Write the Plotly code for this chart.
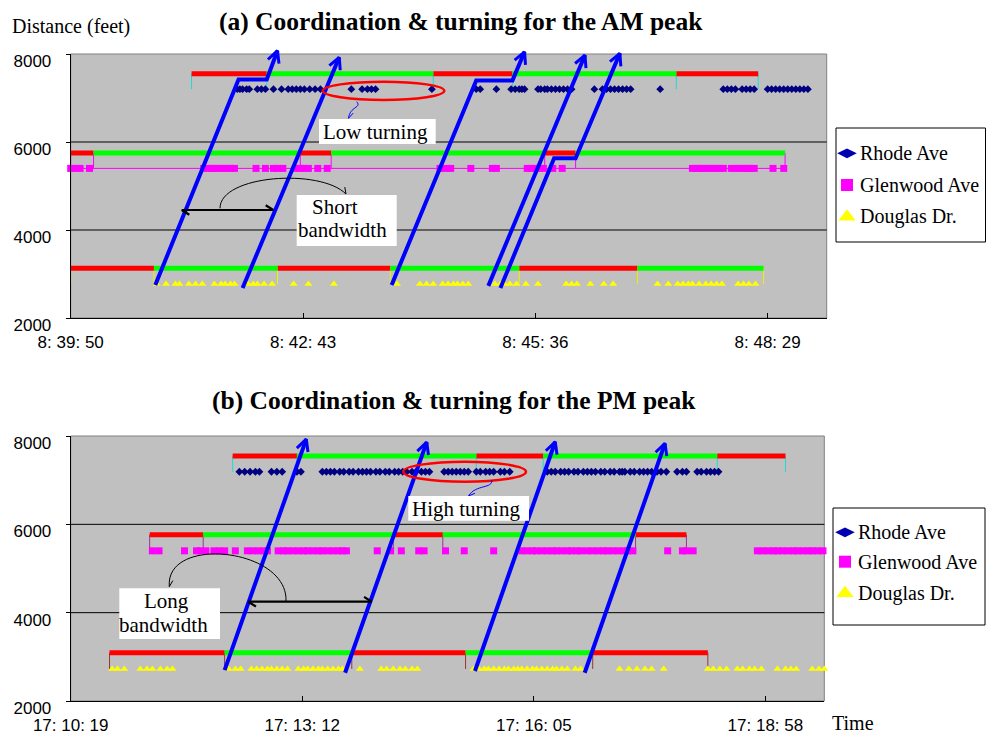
import math
import plotly.graph_objects as go

W, H = 986, 735

# ---------------------------------------------------------------- data
am_start = 8 * 3600 + 39 * 60 + 50     # 8:39:50
pm_start = 17 * 3600 + 10 * 60 + 19    # 17:10:19
tick_offsets = [0, 173, 346, 519]      # seconds after window start
window_len = 563
distance_ticks = [2000, 4000, 6000, 8000]

streets = ["Rhode Ave", "Glenwood Ave", "Douglas Dr."]

# signal phase change times (s after window start); first phase is red
am_rhode_phase = [90, 146, 270, 329, 451, 512]
am_glenwood_phase = [0, 17, 171, 194, 353, 376, 532]
am_douglas_phase = [0, 62, 154, 238, 334, 422, 516]
pm_rhode_phase = [121, 169, 303, 353, 483, 534]
pm_glenwood_phase = [59, 99, 241, 278, 422, 460]
pm_douglas_phase = [29, 115, 210, 295, 390, 476]

# distance (feet) of each signal bar and of each arrival row
am_bar_level = [7550, 5750, 3130]
am_row_level = [7200, 5400, 2770]
pm_bar_level = [7550, 5765, 3095]
pm_row_level = [7190, 5400, 2725]

# vehicle arrivals (s after window start)
am_rhode_arrivals = [124, 126, 128, 131, 133, 139, 142, 145, 151, 157, 162, 165, 168, 171, 174,
                     178, 182, 186, 209, 217, 221, 224, 227, 269, 302, 305, 317, 328, 331, 334,
                     336, 338, 348, 350, 353, 355, 358, 361, 364, 367, 370, 373, 390, 396, 399,
                     402, 405, 408, 411, 414, 417, 439, 486, 489, 492, 495, 500, 503, 506, 509,
                     519, 522, 525, 528, 531, 534, 537, 540, 543, 546, 549]
am_glenwood_arrivals = [0, 4, 7, 14, 99, 102, 105, 107, 110, 113, 116, 119, 122, 138, 145, 151,
                        154, 158, 168, 171, 174, 177, 184, 191, 275, 279, 283, 298, 314, 317,
                        340, 343, 346, 349, 352, 359, 366, 463, 466, 469, 471, 474, 477, 480,
                        483, 486, 492, 495, 498, 501, 504, 506, 509, 523, 531]
am_douglas_arrivals = [64, 71, 78, 81, 88, 93, 98, 107, 112, 115, 119, 122, 132, 136, 139, 144,
                       150, 166, 177, 196, 243, 260, 265, 270, 277, 281, 285, 288, 292, 296,
                       316, 320, 323, 327, 332, 339, 348, 369, 373, 377, 387, 397, 404, 437,
                       445, 452, 456, 460, 463, 468, 473, 477, 481, 485, 497, 501, 505, 510]
pm_rhode_arrivals = [126, 130, 134, 138, 141, 150, 154, 158, 169, 172, 188, 191, 194, 197, 201,
                     204, 208, 211, 215, 218, 221, 224, 228, 231, 235, 238, 242, 245, 248, 251,
                     255, 258, 262, 265, 268, 279, 282, 285, 288, 291, 294, 297, 303, 306, 310,
                     313, 316, 321, 324, 328, 356, 359, 362, 366, 369, 372, 376, 379, 383, 386,
                     389, 392, 396, 399, 403, 406, 410, 412, 414, 418, 421, 425, 428, 431, 434,
                     438, 441, 445, 453, 457, 460, 468, 471, 475, 478, 481, 484]
pm_glenwood_arrivals = [61, 66, 85, 94, 97, 101, 107, 111, 115, 123, 132, 136, 140, 144, 147,
                        155, 159, 162, 166, 170, 174, 177, 181, 185, 188, 192, 196, 200, 203,
                        206, 229, 239, 247, 260, 264, 280, 294, 316, 337, 341, 345, 348, 352,
                        356, 360, 363, 367, 371, 374, 378, 381, 386, 390, 394, 398, 401, 405,
                        409, 413, 416, 420, 446, 457, 460, 465, 513, 517, 521, 525, 528, 532,
                        536, 540, 543, 547, 551, 554, 558, 562]
pm_douglas_arrivals = [31, 35, 40, 52, 57, 61, 67, 72, 76, 118, 123, 127, 135, 139, 143, 147,
                       150, 154, 158, 162, 170, 174, 177, 181, 185, 188, 192, 196, 200, 203,
                       216, 232, 236, 241, 246, 250, 255, 259, 301, 305, 309, 312, 316, 320,
                       324, 327, 331, 334, 337, 341, 345, 348, 352, 356, 360, 363, 367, 371,
                       377, 381, 410, 417, 423, 429, 434, 443, 476, 480, 485, 490, 498, 502,
                       507, 511, 516, 528, 534, 538, 542, 554, 559, 563]

# platoon trajectories: (times, distances)
am_trajectories = [
    ([63, 125, 146, 154], [2750, 7420, 7420, 8075]),
    ([128, 200], [2680, 7925]),
    ([239, 302, 329, 338], [2750, 7400, 7400, 8050]),
    ([311, 383], [2730, 7975]),
    ([320, 360, 376, 409], [2680, 5630, 5630, 8015]),
]
pm_trajectories = [
    ([115, 176], [2700, 7930]),
    ([205, 266], [2640, 7860]),
    ([302, 362], [2680, 7870]),
    ([384, 444], [2640, 7835]),
]

# ---------------------------------------------------------------- styling
SERIF = "Liberation Serif, Times New Roman, serif"
SANS = "Liberation Sans, Arial, sans-serif"
RED, GREEN, BLUE = "#FF0000", "#00FF00", "#0000FF"
marker_styles = [
    dict(symbol="diamond", color="#000080", size=6),
    dict(symbol="square", color="#FF00FF", size=7),
    dict(symbol="triangle-up", color="#FFFF00", size=7),
]
legend_marker_styles = [
    dict(symbol="diamond-wide", color="#0000B0", size=14),
    dict(symbol="square", color="#FF00FF", size=12),
    dict(symbol="triangle-up", color="#FFFF00", size=15),
]

panels = [
    dict(box=(70.7, 54, 826.7, 318), start=am_start,
         phases=[am_rhode_phase, am_glenwood_phase, am_douglas_phase],
         bars=am_bar_level, rows=am_row_level,
         arrivals=[am_rhode_arrivals, am_glenwood_arrivals, am_douglas_arrivals],
         connect=[False, True, False],
         tick_colors=["#20D8D8", "#FF00FF", "#F0F000"],
         trajectories=am_trajectories),
    dict(box=(70.7, 436, 824.3, 701), start=pm_start,
         phases=[pm_rhode_phase, pm_glenwood_phase, pm_douglas_phase],
         bars=pm_bar_level, rows=pm_row_level,
         arrivals=[pm_rhode_arrivals, pm_glenwood_arrivals, pm_douglas_arrivals],
         connect=[False, False, False],
         tick_colors=["#20D8D8", "#993399", "#993333"],
         trajectories=pm_trajectories),
]


def clock(t):
    h, r = divmod(int(t), 3600)
    m, s = divmod(r, 60)
    return f"{h}: {m:02d}: {s:02d}"


def PX(x):
    return x / W


def PY(y):
    return 1 - y / H


def chevron(tip, frm, length, half_angle):
    """Two wing end points of an open arrow head at `tip`, pointing away from `frm`."""
    dx, dy = frm[0] - tip[0], frm[1] - tip[1]
    d = math.hypot(dx, dy)
    ux, uy = dx / d, dy / d
    a = math.radians(half_angle)
    wings = []
    for sgn in (1, -1):
        c, s = math.cos(sgn * a), math.sin(sgn * a)
        wings.append((tip[0] + length * (ux * c - uy * s), tip[1] + length * (ux * s + uy * c)))
    return wings


def ax(prefix, n):
    return prefix + ("" if n == 1 else str(n))


fig = go.Figure()
layout = dict(width=W, height=H, margin=dict(l=0, r=0, t=0, b=0, autoexpand=False),
              paper_bgcolor="white", plot_bgcolor="rgba(0,0,0,0)", showlegend=False)
shapes, annotations = [], []
HEADROOM = 30  # px above the frame where arrow tips may reach

for i, p in enumerate(panels):
    nm, no = i + 1, i + 3
    x0, top, x1, bottom = p["box"]
    xd = [x0 / W, x1 / W]
    yd = [(H - bottom) / H, (H - top) / H]
    ppf = (bottom - top) / (distance_ticks[-1] - distance_ticks[0])   # px per foot
    pps = (x1 - x0) / window_len                                         # px per second

    layout[ax("xaxis", nm)] = dict(
        domain=xd, range=[0, window_len], anchor=ax("y", nm),
        tickvals=tick_offsets, ticktext=[clock(p["start"] + t) for t in tick_offsets],
        ticks="inside", ticklen=5, tickcolor="black", showline=True, linecolor="black",
        linewidth=1, showgrid=False, zeroline=False, ticklabelstandoff=9,
        tickfont=dict(family=SANS, size=17, color="black"))
    layout[ax("yaxis", nm)] = dict(
        domain=yd, range=[distance_ticks[0], distance_ticks[-1]], anchor=ax("x", nm),
        tickvals=distance_ticks, ticktext=[str(v) for v in distance_ticks],
        ticks="outside", ticklen=4, tickcolor="black", showline=True, linecolor="black",
        linewidth=1, showgrid=False, zeroline=False, ticklabelshift=7, ticklabelstandoff=11,
        tickfont=dict(family=SANS, size=17, color="black"))
    # overlay axes with the same scale but extra headroom for the trajectories
    layout[ax("xaxis", no)] = dict(domain=xd, range=[0, window_len], anchor=ax("y", no),
                                   visible=False)
    layout[ax("yaxis", no)] = dict(domain=[yd[0], (H - top + HEADROOM) / H],
                                   range=[distance_ticks[0], distance_ticks[-1] + HEADROOM / ppf],
                                   anchor=ax("x", no), visible=False)

    # plot area background and frame
    shapes.append(dict(type="rect", xref="paper", yref="paper", x0=xd[0], x1=xd[1],
                       y0=yd[0], y1=yd[1], fillcolor="#C0C0C0",
                       line=dict(color="#808080", width=1), layer="below"))
    for v in distance_ticks[1:-1]:
        shapes.append(dict(type="line", xref=ax("x", nm) + " domain", yref=ax("y", nm),
                           x0=0, x1=1, y0=v, y1=v, line=dict(color="black", width=1),
                           layer="below"))

    xa, ya = ax("x", nm), ax("y", nm)
    for k in range(3):
        ch = p["phases"][k]
        bar, row = p["bars"][k], p["rows"][k]
        segs = {RED: ([], []), GREEN: ([], [])}
        for j in range(len(ch) - 1):
            sx, sy = segs[RED if j % 2 == 0 else GREEN]
            sx += [ch[j], ch[j + 1], None]
            sy += [bar, bar, None]
        # drop lines at every phase change
        tx, ty = [], []
        for c in ch:
            tx += [c, c, None]
            ty += [bar, row, None]
        fig.add_trace(go.Scatter(x=tx, y=ty, mode="lines", xaxis=xa, yaxis=ya,
                                 line=dict(color=p["tick_colors"][k], width=1),
                                 hoverinfo="skip"))
        for col, (sx, sy) in segs.items():
            fig.add_trace(go.Scatter(x=sx, y=sy, mode="lines", xaxis=xa, yaxis=ya,
                                     line=dict(color=col, width=5), hoverinfo="skip"))
        arr = p["arrivals"][k]
        ms = marker_styles[k]
        fig.add_trace(go.Scatter(
            x=arr, y=[row] * len(arr), xaxis=xa, yaxis=ya, name=streets[k],
            mode="lines+markers" if p["connect"][k] else "markers",
            line=dict(color=ms["color"], width=1), cliponaxis=False,
            marker=dict(symbol=ms["symbol"], color=ms["color"], size=ms["size"],
                        line=dict(width=0))))

    # trajectories with open arrow heads
    oxa, oya = ax("x", no), ax("y", no)
    lx, ly, hx, hy = [], [], [], []
    for ts, ds in p["trajectories"]:
        lx += list(ts) + [None]
        ly += list(ds) + [None]
        tip = (ts[-1] * pps, ds[-1] * ppf)
        prev = (ts[-2] * pps, ds[-2] * ppf)
        wa, wb = chevron(tip, prev, 13, 27)
        hx += [wa[0] / pps, ts[-1], wb[0] / pps, None]
        hy += [wa[1] / ppf, ds[-1], wb[1] / ppf, None]
    fig.add_trace(go.Scatter(x=lx, y=ly, mode="lines", xaxis=oxa, yaxis=oya,
                             line=dict(color=BLUE, width=4), hoverinfo="skip"))
    fig.add_trace(go.Scatter(x=hx, y=hy, mode="lines", xaxis=oxa, yaxis=oya,
                             line=dict(color=BLUE, width=3), hoverinfo="skip"))

# page-sized pixel axis used for the legend keys
layout["xaxis5"] = dict(domain=[0, 1], range=[0, W], anchor="y5", visible=False)
layout["yaxis5"] = dict(domain=[0, 1], range=[H, 0], anchor="x5", visible=False)

legend_boxes = [
    dict(box=(836, 128, 985.5, 242), mx=847, tx=858, ys=[153.3, 185, 216.7]),
    dict(box=(833, 508, 985, 625), mx=845, tx=856, ys=[532.3, 561.7, 593.3]),
]
for lb in legend_boxes:
    bx0, by0, bx1, by1 = lb["box"]
    shapes.append(dict(type="rect", xref="paper", yref="paper", x0=PX(bx0), x1=PX(bx1),
                       y0=PY(by1), y1=PY(by0), fillcolor="white",
                       line=dict(color="black", width=1), layer="below"))
    for k, yy in enumerate(lb["ys"]):
        ms = legend_marker_styles[k]
        fig.add_trace(go.Scatter(x=[lb["mx"]], y=[yy], xaxis="x5", yaxis="y5", mode="markers",
                                 cliponaxis=False, hoverinfo="skip",
                                 marker=dict(symbol=ms["symbol"], color=ms["color"],
                                             size=ms["size"], line=dict(width=0))))
        annotations.append(dict(xref="paper", yref="paper", x=PX(lb["tx"]), y=PY(yy),
                                xanchor="left", yanchor="middle", showarrow=False,
                                text=streets[k], font=dict(family=SERIF, size=20, color="black")))


def text(x, y, s, size=20, anchor="center", bold=False):
    annotations.append(dict(xref="paper", yref="paper", x=PX(x), y=PY(y), text=f"<b>{s}</b>" if bold else s,
                            xanchor=anchor, yanchor="middle", showarrow=False,
                            font=dict(family=SERIF, size=size, color="black")))


def white_box(x0, y0, x1, y1):
    shapes.append(dict(type="rect", xref="paper", yref="paper", x0=PX(x0), x1=PX(x1),
                       y0=PY(y1), y1=PY(y0), fillcolor="white", line=dict(width=0),
                       layer="above"))


def path(d_pts, color, width, cmd="L"):
    pts = " ".join(f"{PX(x):.5f},{PY(y):.5f}" for x, y in d_pts[1:])
    x, y = d_pts[0]
    return dict(type="path", xref="paper", yref="paper", layer="above",
                path=f"M {PX(x):.5f},{PY(y):.5f} {cmd} {pts}",
                line=dict(color=color, width=width))


def head(tip, frm, color, width, length, angle):
    a, b = chevron(tip, frm, length, angle)
    shapes.append(path([a, tip, b], color, width))


def double_arrow(xa, xb, y):
    shapes.append(path([(xa, y), (xb, y)], "black", 2.2))
    head((xa, y), (xb, y), "black", 2.2, 9, 32)
    head((xb, y), (xa, y), "black", 2.2, 9, 32)


def curved_arrow(p0, p1, p2, p3, color="black", width=1):
    shapes.append(path([p0, p1, p2, p3], color, width, cmd="C"))
    head(p3, p2, color, width, 7, 35)


def ellipse(x0, y0, x1, y1):
    shapes.append(dict(type="circle", xref="paper", yref="paper", x0=PX(x0), x1=PX(x1),
                       y0=PY(y1), y1=PY(y0), line=dict(color=RED, width=2.5), layer="above"))


# titles and axis captions
text(461, 21, "(a) Coordination &amp; turning for the AM peak", size=25.5, bold=True)
text(453.5, 400, "(b) Coordination &amp; turning for the PM peak", size=25.5, bold=True)
text(70.5, 27, "Distance (feet)", size=20)
text(853, 723, "Time", size=20)

# AM call-outs
ellipse(322.7, 81.7, 444.3, 100)
curved_arrow((356.7, 101.7), (362, 108), (350, 106), (348.5, 118.3), color=BLUE, width=1)
white_box(319, 119, 435.7, 144)
text(320.5, 131.5, "Low turning", size=21, anchor="left")
double_arrow(181.7, 273.3, 210)
curved_arrow((220, 208.3), (220, 175), (320, 168), (346, 194))
white_box(296.7, 195, 396.7, 246)
text(335, 207.5, "Short", size=21)
text(342, 230, "bandwidth", size=21)

# PM call-outs
ellipse(403.3, 461.7, 526, 481.7)
curved_arrow((491.7, 480), (493, 489), (476, 484), (468.5, 496), color=BLUE, width=1)
white_box(408.3, 496, 529, 520.7)
text(409.5, 508.5, "High turning", size=21, anchor="left")
double_arrow(248.3, 371.7, 601.7)
curved_arrow((286, 601), (288, 548), (165, 535), (169.3, 586.7))
white_box(119.3, 588.3, 220, 639)
text(166.7, 600.5, "Long", size=21)
text(163.3, 625, "bandwidth", size=21)

layout["shapes"] = shapes
layout["annotations"] = annotations
fig.update_layout(**layout)
fig.write_html("out.html")
